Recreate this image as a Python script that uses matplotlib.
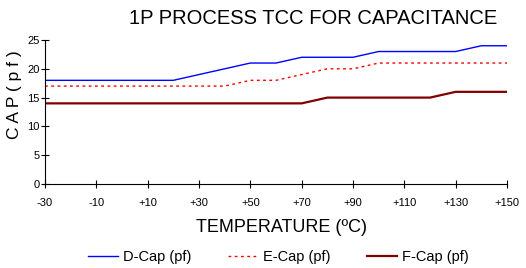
import matplotlib
matplotlib.use('Agg')
import matplotlib.pyplot as plt

plt.rcParams['font.family'] = ['Liberation Sans', 'DejaVu Sans']

# temperatures (degC), one point every 10 degrees
temps = [-30, -20, -10, 0, 10, 20, 30, 40, 50, 60, 70, 80, 90, 100, 110, 120, 130, 140, 150]
d_cap = [18, 18, 18, 18, 18, 18, 19, 20, 21, 21, 22, 22, 22, 23, 23, 23, 23, 24, 24]
e_cap = [17, 17, 17, 17, 17, 17, 17, 17, 18, 18, 19, 20, 20, 21, 21, 21, 21, 21, 21]
f_cap = [14, 14, 14, 14, 14, 14, 14, 14, 14, 14, 14, 15, 15, 15, 15, 15, 16, 16, 16]
tick_vals = [-30, -10, 10, 30, 50, 70, 90, 110, 130, 150]
tick_labels = ['-30', '-10', '+10', '+30', '+50', '+70', '+90', '+110', '+130', '+150']

fig = plt.figure(figsize=(5.26, 2.68), dpi=100)
ax = fig.add_axes([45/526, 1 - 184/268, 462/526, 144/268])

ax.plot(temps, d_cap, color='#0000FF', lw=1.0, label='D-Cap (pf)')
ax.plot(temps, e_cap, color='#FF0000', lw=1.0, ls=(0, (2, 2.5)), label='E-Cap (pf)')
ax.plot(temps, f_cap, color='#800000', lw=1.6, label='F-Cap (pf)')

ax.set_xlim(-30, 150)
ax.set_ylim(0, 25)
ax.set_xticks(tick_vals)
ax.set_xticklabels(tick_labels)
ax.set_yticks([0, 5, 10, 15, 20, 25])
ax.tick_params(direction='inout', length=6, width=0.8, labelsize=8)
ax.tick_params(axis='x', pad=7)
ax.tick_params(axis='y', pad=1)
for s in ['top', 'right']:
    ax.spines[s].set_visible(False)
for s in ['left', 'bottom']:
    ax.spines[s].set_linewidth(0.8)

fig.text(313/526, 1 - 18/268, '1P PROCESS TCC FOR CAPACITANCE', ha='center', va='center', fontsize=14.5)
fig.text(15/526, 1 - 95/268, 'C A P ( p f )', rotation=90, ha='center', va='center', fontsize=12.5)
fig.text(282/526, 1 - 228/268, 'TEMPERATURE (ºC)', ha='center', va='center', fontsize=13)

fig.legend(loc='center', bbox_to_anchor=(278/526, 1 - 257/268), ncol=3, frameon=False,
           fontsize=10.5, handlelength=2.1, columnspacing=2.5, handletextpad=0.3)

fig.savefig('out.png', dpi=100)
